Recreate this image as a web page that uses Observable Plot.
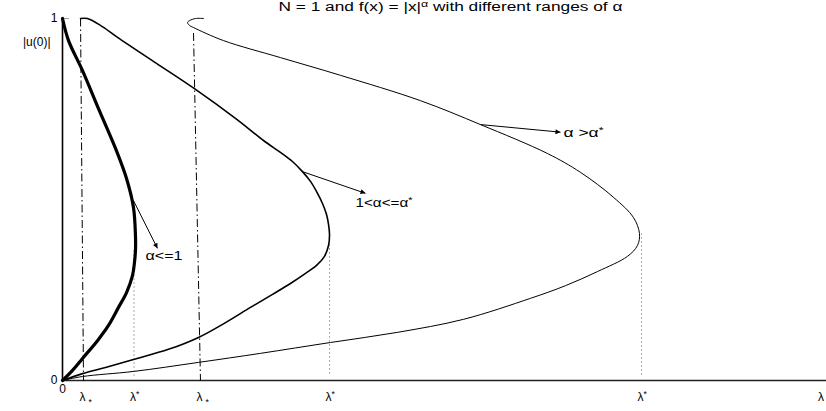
<!DOCTYPE html>
<html>
<head>
<meta charset="utf-8">
<script src="https://cdn.jsdelivr.net/npm/d3@7"></script>
<script src="https://cdn.jsdelivr.net/npm/@observablehq/plot@0.6"></script>
<style>
  html, body { margin: 0; padding: 0; background: #fff; }
  #chart svg { display: block; }
</style>
</head>
<body>
<div id="chart"></div>
<script>
// ---- data (λ on the horizontal axis, |u(0)| on the vertical axis) ----
// branch for α <= 1 (thick)
const lambdaAlphaLe1 = [0, 0.079, 0.262, 0.471, 0.694, 0.838, 0.929, 0.955, 0.955, 0.942, 0.916, 0.838, 0.733, 0.602, 0.458, 0.262, 0.131, 0];
const uAlphaLe1      = [1.0, 0.939, 0.856, 0.751, 0.641, 0.558, 0.478, 0.401, 0.359, 0.326, 0.290, 0.243, 0.202, 0.152, 0.110, 0.061, 0.028, 0];
// branch for 1 < α <= α*
const lambdaAlphaMid = [0.236, 0.327, 0.497, 0.720, 1.230, 1.741, 2.264, 2.631, 2.853, 3.010, 3.141, 3.246, 3.338, 3.403, 3.455, 3.482, 3.495, 3.482, 3.429, 3.325, 3.181, 2.984, 2.749, 2.461, 2.134, 1.780, 1.387, 0.929, 0.563, 0.262, 0];
const uAlphaMid      = [1.0, 1.0, 0.981, 0.948, 0.876, 0.804, 0.724, 0.663, 0.630, 0.605, 0.577, 0.550, 0.517, 0.489, 0.459, 0.431, 0.403, 0.373, 0.343, 0.318, 0.296, 0.268, 0.238, 0.202, 0.160, 0.119, 0.086, 0.058, 0.036, 0.019, 0];
// branch for α > α*
const lambdaAlphaGt = [1.846, 1.741, 1.662, 1.636, 1.662, 1.715, 2.107, 2.853, 3.639, 4.686, 5.471, 6.348, 6.780, 7.212, 7.474, 7.552, 7.526, 7.395, 7.003, 6.584, 6.126, 5.249, 4.385, 3.508, 2.592, 1.780, 0.929, 0.262, 0];
const uAlphaGt      = [1.0, 1.0, 0.994, 0.989, 0.981, 0.975, 0.939, 0.892, 0.843, 0.773, 0.707, 0.627, 0.575, 0.506, 0.450, 0.406, 0.373, 0.343, 0.301, 0.262, 0.227, 0.169, 0.133, 0.105, 0.075, 0.050, 0.025, 0.011, 0];

// dash-dot guides at λ_*
const lambdaLowerTop    = [0.236, 1.715];
const lambdaLowerBottom = [0.275, 1.806];
const uLowerTop         = [1.0, 0.96];
const uLowerBottom      = [0, 0];

// dotted guides at λ*
const lambdaUpper  = [0.936, 3.495, 7.579];
const uUpperTop    = [0.359, 0.409, 0.406];
const uUpperBottom = [0.014, 0.014, 0.014];

// ticks
const xTickLambda = [0, 0.275, 0.936, 1.806, 3.495, 7.579, 9.94];
const xTickLabels = ["0", "λ_*", "λ^*", "λ_*", "λ^*", "λ^*", "λ"];
const yTickU      = [0, 1];
const yTickLabels = ["0", "1"];
const yAxisLabel  = "|u(0)|";
const yAxisLabelU = [0.934];
const xDomain = [0, 10];
const yDomain = [0, 1];

// annotations
const annotationLabels = ["α<=1", "1<α<=α^*", "α >α^*"];
const annotationLambda = [1.086, 3.835, 6.558];
const annotationU      = [0.343, 0.489, 0.682];
const arrowFromLambda  = [0.929, 3.141, 5.471];
const arrowFromU       = [0.497, 0.577, 0.707];
const arrowToLambda    = [1.243, 3.966, 6.518];
const arrowToU         = [0.365, 0.517, 0.686];

const titleText = "N = 1 and f(x) = |x|^α with different ranges of α";

// ---- chart ----
const font = "Liberation Sans, Arial, Helvetica, sans-serif";
const idx = (a) => d3.range(a.length);

const plot = Plot.plot({
  width: 826,
  height: 411,
  marginLeft: 62,
  marginRight: 0,
  marginTop: 18,
  marginBottom: 31,
  x: { domain: xDomain, axis: null },
  y: { domain: yDomain, axis: null },
  style: { fontFamily: font, background: "#fff", color: "#000" },
  marks: [
    // axes lines
    Plot.ruleY([yDomain[0]], { x1: xDomain[0], x2: xDomain[1], stroke: "#222", strokeWidth: 1.3 }),
    Plot.ruleX([xDomain[0]], { y1: yDomain[0], y2: yDomain[1], stroke: "#000", strokeWidth: 1.6 }),
    Plot.ruleY([yDomain[1]], { x1: xDomain[0], x2: 0.09, stroke: "#999", strokeWidth: 1 }),

    // guides
    Plot.link(idx(lambdaLowerTop), {
      x1: i => lambdaLowerTop[i], y1: i => uLowerTop[i],
      x2: i => lambdaLowerBottom[i], y2: i => uLowerBottom[i],
      stroke: "#000", strokeWidth: 1, strokeDasharray: "8,3,1.5,3"
    }),
    Plot.link(idx(lambdaUpper), {
      x1: i => lambdaUpper[i], y1: i => uUpperTop[i],
      x2: i => lambdaUpper[i], y2: i => uUpperBottom[i],
      stroke: "#555", strokeWidth: 1, strokeDasharray: "1,3"
    }),

    // branches
    Plot.line(idx(lambdaAlphaGt), { x: i => lambdaAlphaGt[i], y: i => uAlphaGt[i], stroke: "#000", strokeWidth: 1, curve: "catmull-rom" }),
    Plot.line(idx(lambdaAlphaMid), { x: i => lambdaAlphaMid[i], y: i => uAlphaMid[i], stroke: "#000", strokeWidth: 1.6, curve: "catmull-rom" }),
    Plot.line(idx(lambdaAlphaLe1), { x: i => lambdaAlphaLe1[i], y: i => uAlphaLe1[i], stroke: "#000", strokeWidth: 3.2, curve: "catmull-rom" }),

    // arrows (shafts + filled heads added below)
    Plot.link(idx(arrowFromLambda), {
      x1: i => arrowFromLambda[i], y1: i => arrowFromU[i],
      x2: i => arrowToLambda[i], y2: i => arrowToU[i],
      stroke: "#000", strokeWidth: 1
    }),

    // annotation labels
    Plot.text(idx(annotationLabels), {
      x: i => annotationLambda[i], y: i => annotationU[i], text: i => annotationLabels[i],
      textAnchor: "start", lineAnchor: "middle", fontSize: 12, fontFamily: font, fill: "#000"
    }),

    // tick labels
    Plot.text([0], {
      x: i => xTickLambda[i], y: () => yDomain[0], text: i => xTickLabels[i],
      textAnchor: "middle", lineAnchor: "middle", dy: 9, fontSize: 12, fontFamily: font, fill: "#000"
    }),
    Plot.text(d3.range(1, xTickLabels.length), {
      x: i => xTickLambda[i], y: () => yDomain[0], text: i => xTickLabels[i],
      textAnchor: "start", lineAnchor: "middle", dx: -4, dy: 17, fontSize: 12, fontFamily: font, fill: "#000"
    }),
    Plot.text(idx(yTickU), {
      x: () => xDomain[0], y: i => yTickU[i], text: i => yTickLabels[i],
      textAnchor: "end", lineAnchor: "middle", dx: -5, fontSize: 12, fontFamily: font, fill: "#000"
    }),
    Plot.text(yAxisLabelU, {
      x: () => xDomain[0], y: d => d, text: () => yAxisLabel,
      textAnchor: "end", lineAnchor: "middle", dx: -12, fontSize: 12, fontFamily: font, fill: "#000"
    }),

    // title
    Plot.text([titleText], {
      frameAnchor: "top-left", text: d => d, dx: 216, dy: -11,
      textAnchor: "start", lineAnchor: "middle", fontSize: 12, fontFamily: font, fill: "#000"
    })
  ]
});

document.getElementById("chart").appendChild(plot);

// ---- post-processing: widths, super/subscripts, arrowheads ----
const svg = d3.select(plot);

// stretch title and annotation widths to the reference (match on raw text first)
const targetWidths = new Map([[titleText, 344], [annotationLabels[0], 37], [annotationLabels[1], 57], [annotationLabels[2], 40]]);
svg.selectAll("text").each(function () {
  const w = targetWidths.get(this.textContent);
  if (w) d3.select(this).attr("textLength", w).attr("lengthAdjust", "spacingAndGlyphs");
});

function richText(textEl) {
  const s = textEl.textContent;
  if (!/[\^_]/.test(s)) return;
  const size = parseFloat(textEl.getAttribute("font-size")) ||
               parseFloat(textEl.parentNode.getAttribute("font-size")) || 12;
  const parts = [];
  const re = /([\^_])(.)/g;
  let last = 0, m;
  while ((m = re.exec(s))) {
    if (m.index > last) parts.push({ t: s.slice(last, m.index), k: 0 });
    parts.push({ t: m[2], k: m[1] === "^" ? 1 : -1 });
    last = re.lastIndex;
  }
  if (last < s.length) parts.push({ t: s.slice(last), k: 0 });
  textEl.textContent = "";
  let cur = 0;
  for (const p of parts) {
    const target = p.k === 1 ? -0.38 * size : p.k === -1 ? 0.32 * size : 0;
    const ts = d3.select(textEl).append("tspan").text(p.t);
    const d = target - cur;
    if (d) ts.attr("dy", d);
    if (p.k) ts.attr("font-size", size * 0.72);
    if (p.k === -1) ts.attr("dx", 3);
    cur = target;
  }
}
svg.selectAll("text").each(function () { richText(this); });

// filled arrowheads on the last link mark (the arrows)
const defs = svg.insert("defs", ":first-child");
defs.append("marker")
  .attr("id", "filled-arrow")
  .attr("viewBox", "0 0 10 10")
  .attr("refX", 10).attr("refY", 5)
  .attr("markerUnits", "userSpaceOnUse")
  .attr("markerWidth", 8).attr("markerHeight", 5)
  .attr("orient", "auto")
  .append("path").attr("d", "M0,0L10,5L0,10Z").attr("fill", "#000").attr("stroke", "none");
const linkGroups = svg.selectAll('g[aria-label="link"]').nodes();
if (linkGroups.length) {
  d3.select(linkGroups[linkGroups.length - 1]).selectAll("path, line").attr("marker-end", "url(#filled-arrow)");
}
</script>
</body>
</html>
